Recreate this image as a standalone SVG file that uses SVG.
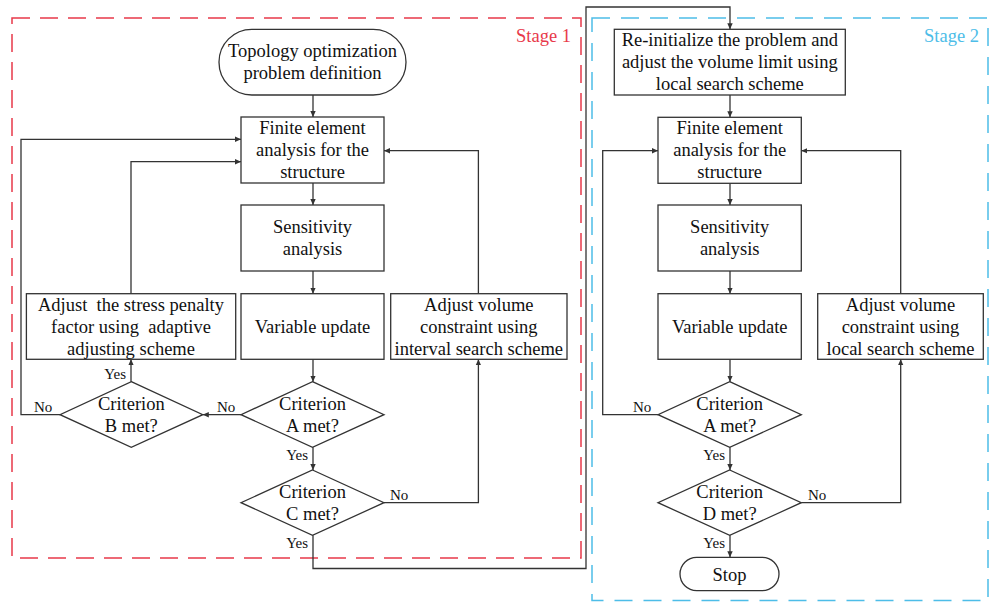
<svg xmlns="http://www.w3.org/2000/svg" width="991" height="603" viewBox="0 0 991 603">
<defs>
<style>
.t{font-family:"Liberation Serif","Times New Roman",serif;font-size:18.5px;fill:#111;text-anchor:middle;white-space:pre}
.s{font-family:"Liberation Serif","Times New Roman",serif;font-size:15px;fill:#111}
.box{fill:#fff;stroke:#333;stroke-width:1.3}
.ln{fill:none;stroke:#333;stroke-width:1.3}
.arr{marker-end:url(#ah)}
</style>
<marker id="ah" viewBox="0 0 10 10" refX="10" refY="5" markerWidth="6" markerHeight="6" markerUnits="userSpaceOnUse" orient="auto">
<path d="M0,0.5 L10,5 L0,9.5 Z" fill="#333"/>
</marker>
</defs>
<rect width="991" height="603" fill="#fff"/>

<g id="stage1">
<rect x="12" y="18" width="569" height="540" fill="none" stroke="#e8394a" stroke-width="1.5" stroke-dasharray="18 10"/>
<text x="571" y="42" style="font-family:'Liberation Serif','Times New Roman',serif;font-size:18.5px;fill:#e8394a;text-anchor:end">Stage 1</text>
</g>
<g id="stage2">
<rect x="592" y="18" width="396" height="582.5" fill="none" stroke="#4dbde8" stroke-width="1.5" stroke-dasharray="18 11"/>
<text x="979" y="42" style="font-family:'Liberation Serif','Times New Roman',serif;font-size:18.5px;fill:#4dbde8;text-anchor:end">Stage 2</text>
</g>

<g id="connectors">
<!-- stage 1 -->
<line class="ln arr" x1="313" y1="95" x2="313" y2="117"/>
<line class="ln arr" x1="313" y1="183" x2="313" y2="205"/>
<line class="ln arr" x1="313" y1="271" x2="313" y2="293.7"/>
<line class="ln arr" x1="313" y1="359.3" x2="313" y2="381.7"/>
<line class="ln arr" x1="313" y1="447.3" x2="313" y2="470"/>
<line class="ln arr" x1="241" y1="414.7" x2="202.8" y2="414.7"/>
<line class="ln arr" x1="131" y1="381.7" x2="131" y2="359.3"/>
<polyline class="ln arr" points="131,293.7 131,161.7 241,161.7"/>
<polyline class="ln arr" points="60,414.7 21,414.7 21,139.3 241,139.3"/>
<polyline class="ln arr" points="384,502.7 478.4,502.7 478.4,359.3"/>
<polyline class="ln arr" points="478.4,293.7 478.4,150.7 384,150.7"/>
<polyline class="ln arr" points="313,535.3 313,568.5 586,568.5 586,7 730,7 730,29.3"/>
<!-- stage 2 -->
<line class="ln arr" x1="730" y1="95" x2="730" y2="117.3"/>
<line class="ln arr" x1="730" y1="183.3" x2="730" y2="205"/>
<line class="ln arr" x1="730" y1="271" x2="730" y2="293.7"/>
<line class="ln arr" x1="730" y1="359.3" x2="730" y2="381.7"/>
<line class="ln arr" x1="730" y1="447.3" x2="730" y2="470"/>
<line class="ln arr" x1="730" y1="535.3" x2="730" y2="557.3"/>
<polyline class="ln arr" points="658,414.7 602.7,414.7 602.7,150.7 658,150.7"/>
<polyline class="ln arr" points="801.3,502.7 900.7,502.7 900.7,359.3"/>
<polyline class="ln arr" points="900.7,293.7 900.7,150.7 801.3,150.7"/>
<!-- labels -->
<text class="s" x="126" y="379" text-anchor="end">Yes</text>
<text class="s" x="34" y="412">No</text>
<text class="s" x="217" y="412">No</text>
<text class="s" x="308" y="460" text-anchor="end">Yes</text>
<text class="s" x="390" y="500">No</text>
<text class="s" x="308" y="548" text-anchor="end">Yes</text>
<text class="s" x="633" y="412">No</text>
<text class="s" x="725" y="460" text-anchor="end">Yes</text>
<text class="s" x="808" y="500">No</text>
<text class="s" x="725" y="548" text-anchor="end">Yes</text>
</g>

<g id="start">
<rect class="box" x="219" y="29.3" width="187" height="65.7" rx="32.8"/>
<text class="t" x="312.5" y="57">Topology optimization</text>
<text class="t" x="312.5" y="79">problem definition</text>
</g>
<g id="fe1">
<rect class="box" x="241" y="117" width="143" height="66"/>
<text class="t" x="312.5" y="134">Finite element</text>
<text class="t" x="312.5" y="156">analysis for the</text>
<text class="t" x="312.5" y="178">structure</text>
</g>
<g id="sens1">
<rect class="box" x="241" y="205" width="143" height="66"/>
<text class="t" x="312.5" y="233">Sensitivity</text>
<text class="t" x="312.5" y="255">analysis</text>
</g>
<g id="var1">
<rect class="box" x="241" y="293.7" width="143" height="65.6"/>
<text class="t" x="312.5" y="332.5">Variable update</text>
</g>
<g id="penalty">
<rect class="box" x="26.4" y="293.7" width="209.3" height="65.6"/>
<text class="t" x="131" y="310.5">Adjust  the stress penalty</text>
<text class="t" x="131" y="332.5">factor using  adaptive</text>
<text class="t" x="131" y="354.5">adjusting scheme</text>
</g>
<g id="volume1">
<rect class="box" x="390.7" y="293.7" width="176.3" height="65.6"/>
<text class="t" x="478.8" y="310.5">Adjust volume</text>
<text class="t" x="478.8" y="332.5">constraint using</text>
<text class="t" x="478.8" y="354.5">interval search scheme</text>
</g>
<g id="critB">
<polygon class="box" points="131.3,381.7 202.8,414.7 131.3,447.3 60,414.7"/>
<text class="t" x="131.3" y="409.5">Criterion</text>
<text class="t" x="131.3" y="431.5">B met?</text>
</g>
<g id="critA1">
<polygon class="box" points="312.5,381.7 384,414.7 312.5,447.3 241,414.7"/>
<text class="t" x="312.5" y="409.5">Criterion</text>
<text class="t" x="312.5" y="431.5">A met?</text>
</g>
<g id="critC">
<polygon class="box" points="312.5,470 384,502.7 312.5,535.3 241,502.7"/>
<text class="t" x="312.5" y="497.5">Criterion</text>
<text class="t" x="312.5" y="519.5">C met?</text>
</g>

<g id="reinit">
<rect class="box" x="614.3" y="29.3" width="231" height="65.7"/>
<text class="t" x="729.8" y="46">Re-initialize the problem and</text>
<text class="t" x="729.8" y="68">adjust the volume limit using</text>
<text class="t" x="729.8" y="90">local search scheme</text>
</g>
<g id="fe2">
<rect class="box" x="658" y="117.3" width="143.3" height="66"/>
<text class="t" x="729.7" y="134">Finite element</text>
<text class="t" x="729.7" y="156">analysis for the</text>
<text class="t" x="729.7" y="178">structure</text>
</g>
<g id="sens2">
<rect class="box" x="658" y="205" width="143.3" height="66"/>
<text class="t" x="729.7" y="233">Sensitivity</text>
<text class="t" x="729.7" y="255">analysis</text>
</g>
<g id="var2">
<rect class="box" x="658" y="293.7" width="143.3" height="65.6"/>
<text class="t" x="729.7" y="332.5">Variable update</text>
</g>
<g id="volume2">
<rect class="box" x="817.7" y="293.7" width="165.6" height="65.6"/>
<text class="t" x="900.5" y="310.5">Adjust volume</text>
<text class="t" x="900.5" y="332.5">constraint using</text>
<text class="t" x="900.5" y="354.5">local search scheme</text>
</g>
<g id="critA2">
<polygon class="box" points="729.7,381.7 801.3,414.7 729.7,447.3 658,414.7"/>
<text class="t" x="729.7" y="409.5">Criterion</text>
<text class="t" x="729.7" y="431.5">A met?</text>
</g>
<g id="critD">
<polygon class="box" points="729.7,470 801.3,502.7 729.7,535.3 658,502.7"/>
<text class="t" x="729.7" y="497.5">Criterion</text>
<text class="t" x="729.7" y="519.5">D met?</text>
</g>
<g id="stop">
<rect class="box" x="680" y="557.3" width="99" height="33.4" rx="16.7"/>
<text class="t" x="729.5" y="580.5">Stop</text>
</g>
</svg>
